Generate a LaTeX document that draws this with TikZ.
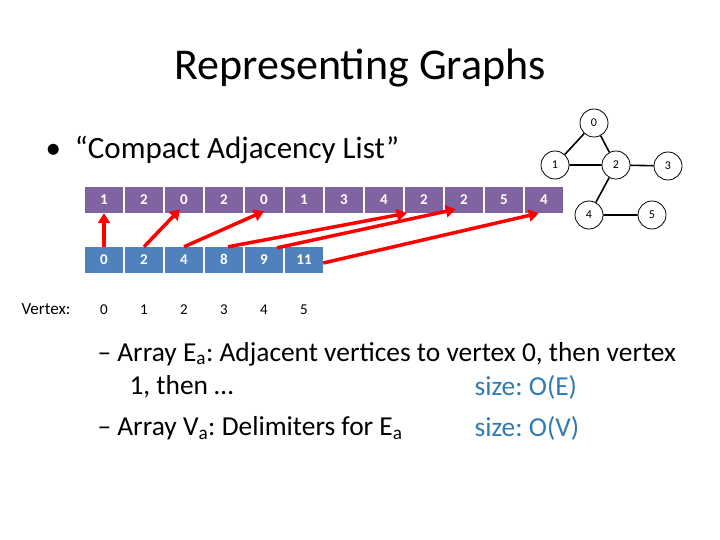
\documentclass[tikz,border=0pt]{standalone}
\usepackage{fontspec}
\setmainfont{Carlito}
\usetikzlibrary{arrows.meta, positioning}
\definecolor{edgepurple}{HTML}{8064A2}
\definecolor{vertblue}{HTML}{4F81BD}
\definecolor{sizeblue}{HTML}{2F7BB5}
\frenchspacing

\begin{document}
\begin{tikzpicture}[x=1pt, y=-1pt,
    cell/.style={minimum width=38pt, minimum height=26pt, inner sep=0pt,
      text height=9pt, text depth=0pt, text=white,
      font=\fontsize{15}{17}\selectfont\bfseries},
    ecell/.style={cell, fill=edgepurple},
    vcell/.style={cell, fill=vertblue},
    vert/.style={circle, draw, thick, minimum size=28pt, inner sep=0pt,
      font=\fontsize{12}{14}\selectfont},
    ptr/.style={red, line width=3.5pt, -{Triangle[length=10pt, width=12pt]}}]
    \useasboundingbox (0,0) rectangle (720,540);

    \node (title) at (360,68) {\fontsize{44}{52}\selectfont Representing Graphs};
    \node[anchor=west] (bul) at (42,150) {\fontsize{31}{37}\selectfont \textbullet\ \ “Compact Adjacency List”};

    % edge array and vertex array
    \foreach \v [count=\i from 0] in {1,2,0,2,0,1,3,4,2,2,5,4}
      \node[ecell] (e\i) at (104+40*\i,200) {\v};
    \foreach \v [count=\i from 0] in {0,2,4,8,9,11} {
      \node[vcell] (v\i) at (104+40*\i,260) {\v};
      \node[font=\fontsize{15}{17}\selectfont] (n\i) at (104+40*\i,310) {\i};
    }
    \node[font=\fontsize{17}{19}\selectfont] (lab) at (46,309) {Vertex:};

    \draw[ptr] (v0.north) -- (e0.south);
    \draw[ptr] (v1.north) -- ([xshift=-4pt, yshift=4pt]e2.south);
    \draw[ptr] (v2.north) -- ([yshift=2pt]e4.south);
    \draw[ptr] ([xshift=4pt]v3.north) -- ([xshift=2pt]e8.south west);
    \draw[ptr] ([xshift=13pt, yshift=-1pt]v4.north) -- ([xshift=11pt, yshift=4pt]e9.south west);
    \draw[ptr] ([yshift=-3pt]v5.east) -- ([xshift=14pt]e11.south west);

    % the graph
    \node[vert] (g0) at (594,123) {0};
    \node[vert] (g1) at (555,165) {1};
    \node[vert] (g2) at (616,165) {2};
    \node[vert] (g3) at (668,166) {3};
    \node[vert] (g4) at (589,215) {4};
    \node[vert] (g5) at (652,215) {5};
    \path[draw, line width=1.6pt] (g0) -- (g1) (g0) -- (g2) (g1) -- (g2)
      (g2) -- (g3) (g2) -- (g4) (g4) -- (g5);

    % sub-bullets
    \begin{scope}[every node/.style={anchor=west, font=\fontsize{27.4}{33}\selectfont}]
      \node (l1) at (94,354) {– Array E\textsubscript{a}: Adjacent vertices to vertex 0, then vertex};
      \node (l2) at (126,387) {1, then …};
      \node[text=sizeblue] (s1) at (471,387) {size: O(E)};
      \node (l3) at (94,428) {– Array V\textsubscript{a}: Delimiters for E\textsubscript{a}};
      \node[text=sizeblue] (s2) at (471,428) {size: O(V)};
    \end{scope}
  \end{tikzpicture}
\end{document}
